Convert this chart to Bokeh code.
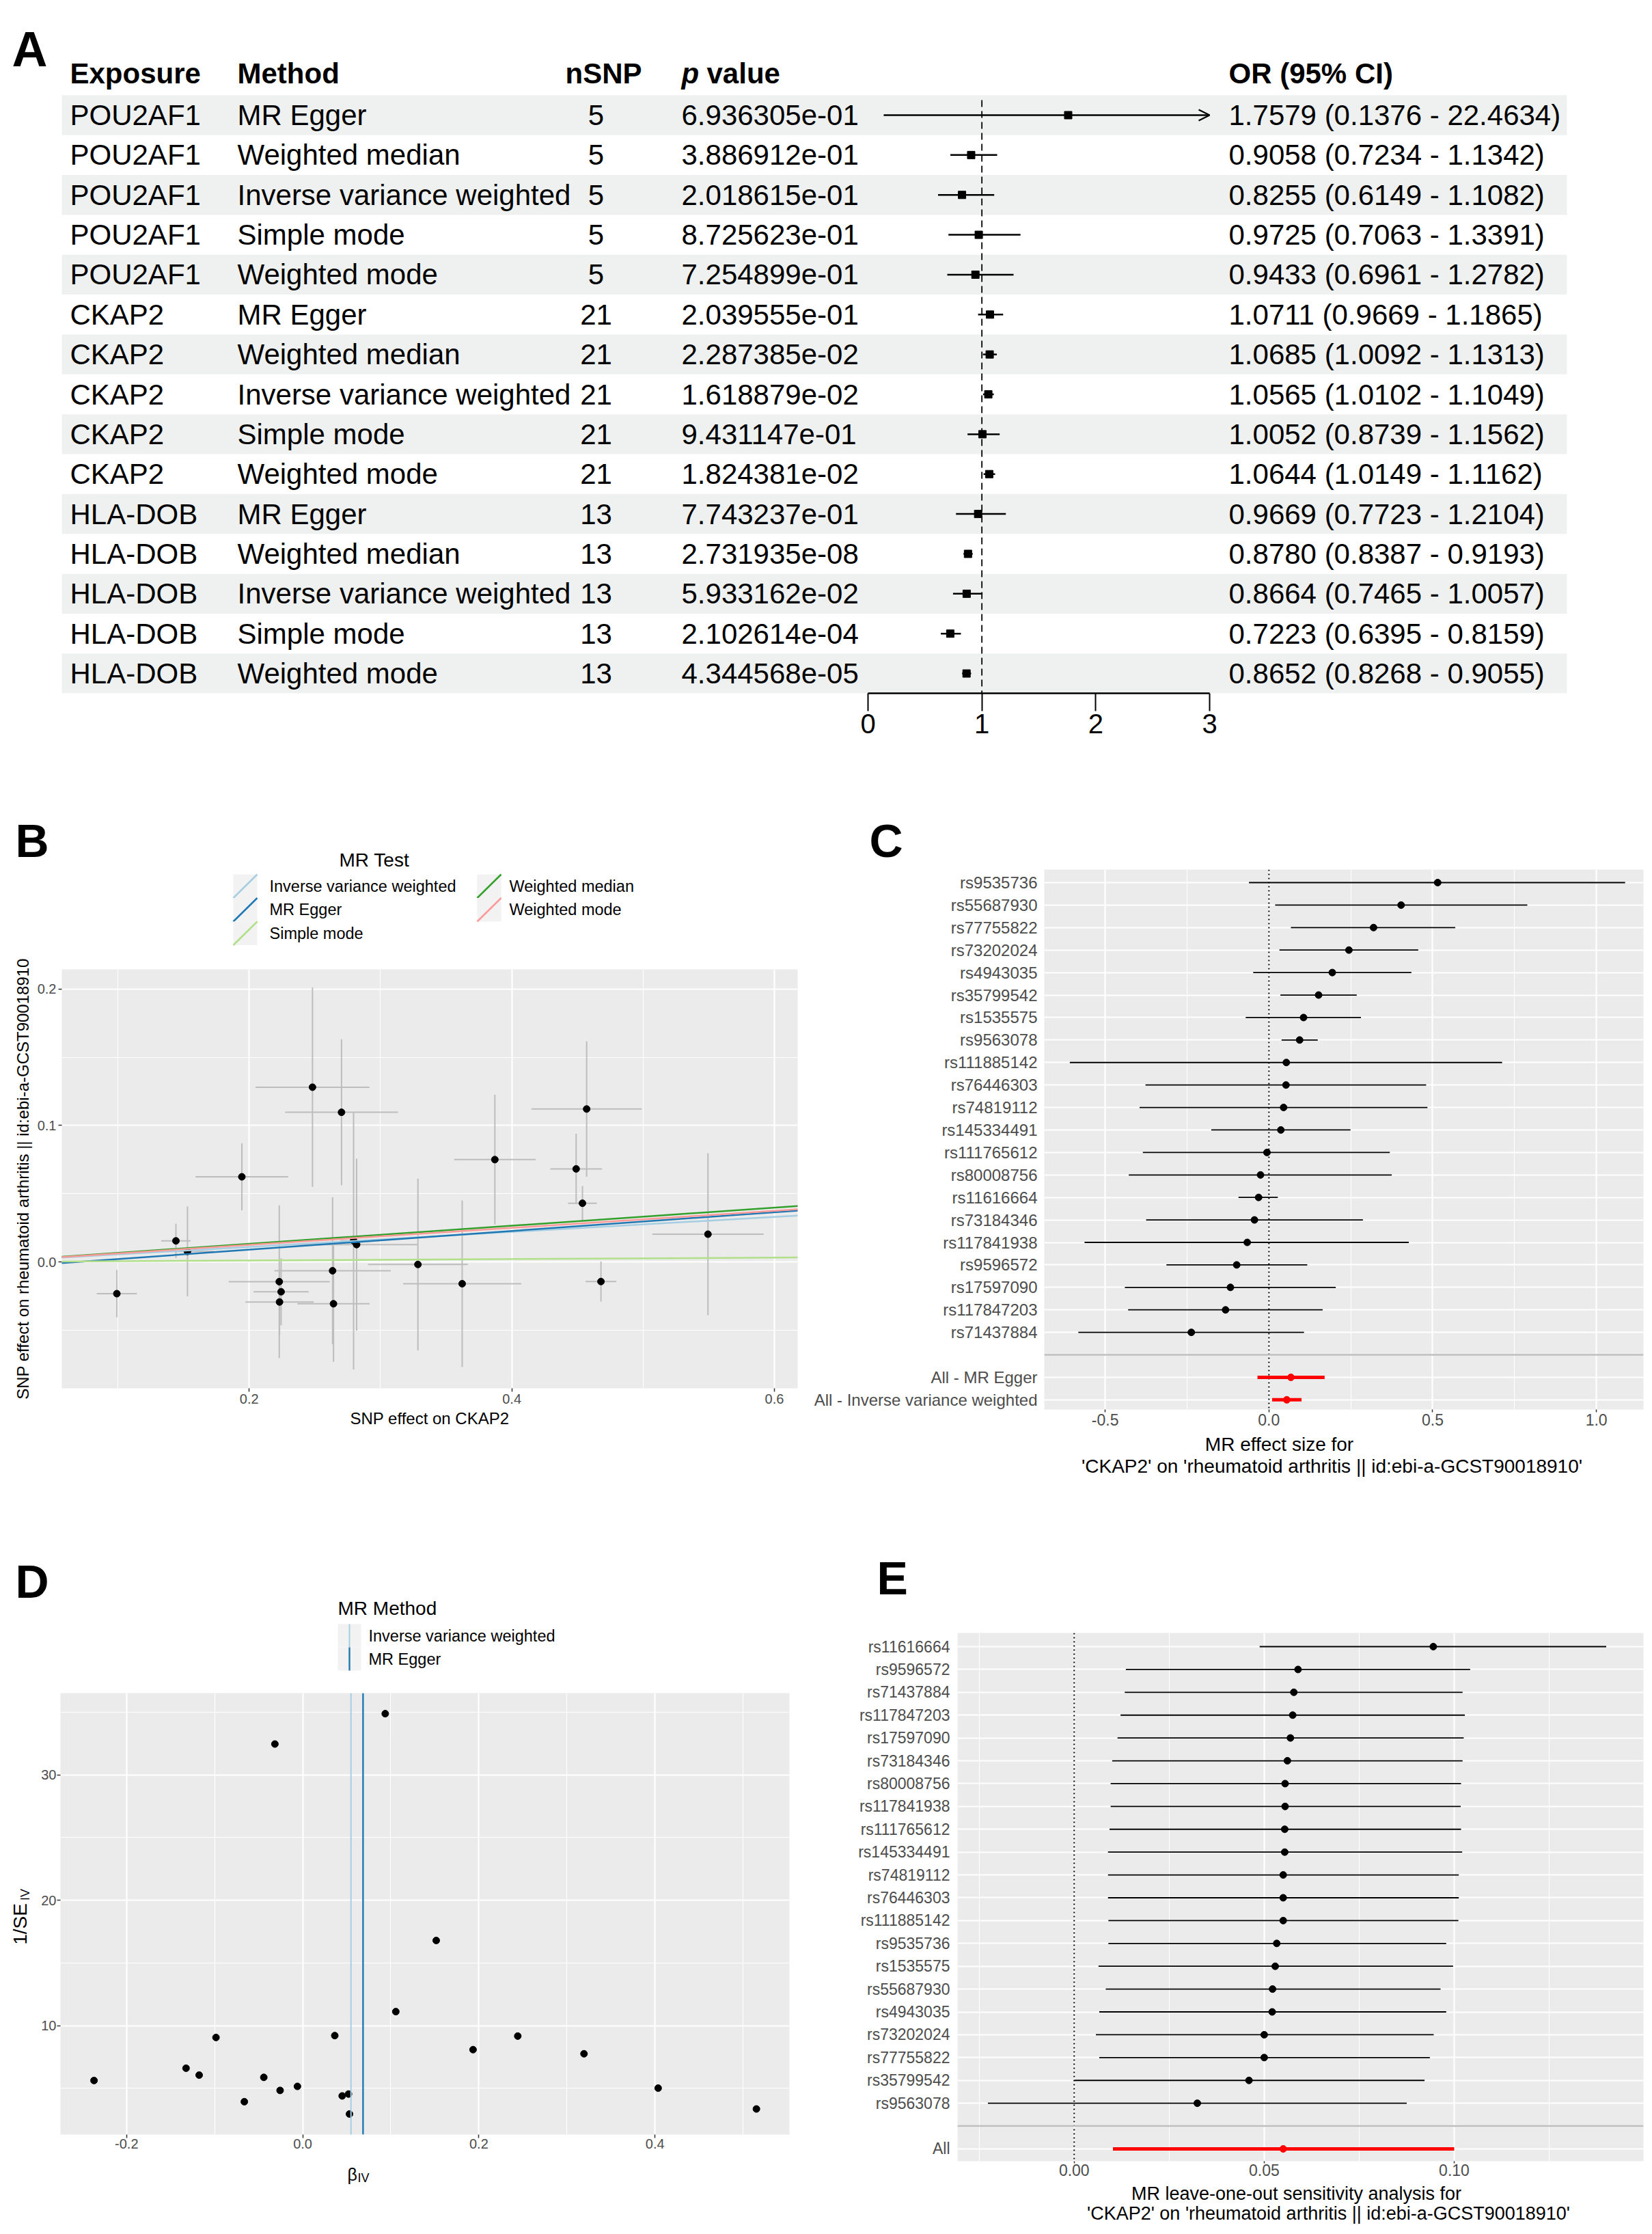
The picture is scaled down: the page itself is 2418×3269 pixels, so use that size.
import numpy as np
from bokeh.plotting import figure
from bokeh.layouts import column, row
from bokeh.models import (Range1d, FixedTicker, PrintfTickFormatter, Span,
                          Slope, Arrow, OpenHead, LinearAxis)
from bokeh.core.properties import value
from bokeh.embed import file_html
from bokeh.resources import INLINE

FONT = "Liberation Sans"

# ======================= DATA =======================
# ---- Panel A: MR results table ----
exposures = ["POU2AF1", "POU2AF1", "POU2AF1", "POU2AF1", "POU2AF1",
             "CKAP2", "CKAP2", "CKAP2", "CKAP2", "CKAP2",
             "HLA-DOB", "HLA-DOB", "HLA-DOB", "HLA-DOB", "HLA-DOB"]
methods = ["MR Egger", "Weighted median", "Inverse variance weighted", "Simple mode", "Weighted mode",
           "MR Egger", "Weighted median", "Inverse variance weighted", "Simple mode", "Weighted mode",
           "MR Egger", "Weighted median", "Inverse variance weighted", "Simple mode", "Weighted mode"]
nsnp = [5, 5, 5, 5, 5, 21, 21, 21, 21, 21, 13, 13, 13, 13, 13]
pvals = [6.936305e-01, 3.886912e-01, 2.018615e-01, 8.725623e-01, 7.254899e-01,
         2.039555e-01, 2.287385e-02, 1.618879e-02, 9.431147e-01, 1.824381e-02,
         7.743237e-01, 2.731935e-08, 5.933162e-02, 2.102614e-04, 4.344568e-05]
or_est = [1.7579, 0.9058, 0.8255, 0.9725, 0.9433, 1.0711, 1.0685, 1.0565, 1.0052, 1.0644,
          0.9669, 0.8780, 0.8664, 0.7223, 0.8652]
or_lo = [0.1376, 0.7234, 0.6149, 0.7063, 0.6961, 0.9669, 1.0092, 1.0102, 0.8739, 1.0149,
         0.7723, 0.8387, 0.7465, 0.6395, 0.8268]
or_hi = [22.4634, 1.1342, 1.1082, 1.3391, 1.2782, 1.1865, 1.1313, 1.1049, 1.1562, 1.1162,
         1.2104, 0.9193, 1.0057, 0.8159, 0.9055]
forest_ticks = [0, 1, 2, 3]
forest_max = 3

# ---- Panel B: scatter (SNP effects) ----
b_bx = [0.0992, 0.1442, 0.1530, 0.1944, 0.2482, 0.2703, 0.2229, 0.2243, 0.2231, 0.2635, 0.2642,
        0.2795, 0.2818, 0.3285, 0.3622, 0.3871, 0.4490, 0.4570, 0.4538, 0.4679, 0.5494]
b_by = [-0.0233, 0.0154, 0.0077, 0.0624, 0.1281, 0.1097, -0.0145, -0.0219, -0.0294, -0.0065, -0.0307,
        0.0155, 0.0127, -0.0019, -0.0160, 0.0750, 0.0682, 0.1121, 0.0430, -0.0144, 0.0203]
b_sx = [0.0153, 0.0112, 0.0200, 0.0353, 0.0434, 0.0430, 0.0385, 0.0210, 0.0260, 0.0443, 0.0275,
        0.0100, 0.0467, 0.0380, 0.0450, 0.0310, 0.0197, 0.0420, 0.0110, 0.0117, 0.0424]
b_sy = [0.0174, 0.0126, 0.0330, 0.0246, 0.0731, 0.0535, 0.0560, 0.0246, 0.0240, 0.0539, 0.0426,
        0.0944, 0.0630, 0.0630, 0.0610, 0.0476, 0.0258, 0.0496, 0.0127, 0.0146, 0.0594]
mr_methods = ["Inverse variance weighted", "MR Egger", "Simple mode", "Weighted median", "Weighted mode"]
mr_colors = ["#a6cee3", "#1f78b4", "#b2df8a", "#33a02c", "#fb9a99"]
mr_slope = [0.0550, 0.0687, 0.0052, 0.0663, 0.0624]
mr_intercept = [0.0, -0.0048, 0.0, 0.0, 0.0]
b_xticks, b_xminor = [0.2, 0.4, 0.6], [0.1, 0.3, 0.5]
b_yticks, b_yminor = [0.0, 0.1, 0.2], [-0.05, 0.05, 0.15]

# ---- Panel C: single SNP forest ----
c_snps = ["rs9535736", "rs55687930", "rs77755822", "rs73202024", "rs4943035", "rs35799542",
          "rs1535575", "rs9563078", "rs111885142", "rs76446303", "rs74819112", "rs145334491",
          "rs111765612", "rs80008756", "rs11616664", "rs73184346", "rs117841938", "rs9596572",
          "rs17597090", "rs117847203", "rs71437884"]
c_b = [0.5152, 0.4036, 0.3194, 0.2442, 0.1934, 0.1516, 0.1057, 0.0937, 0.0531, 0.0520, 0.0448,
       0.0364, -0.0060, -0.0257, -0.0316, -0.0442, -0.0663, -0.0985, -0.1176, -0.1325, -0.2370]
c_lo = [-0.061, 0.019, 0.067, 0.032, -0.048, 0.035, -0.071, 0.0385, -0.608, -0.377, -0.395,
        -0.176, -0.385, -0.428, -0.093, -0.375, -0.563, -0.313, -0.440, -0.430, -0.582]
c_hi = [1.0876, 0.789, 0.569, 0.456, 0.435, 0.268, 0.281, 0.149, 0.712, 0.480, 0.484,
        0.249, 0.369, 0.375, 0.027, 0.287, 0.427, 0.117, 0.204, 0.164, 0.107]
c_all_labels = ["All - MR Egger", "All - Inverse variance weighted"]
c_all_b = [0.0670, 0.0545]
c_all_lo = [-0.035, 0.0096]
c_all_hi = [0.170, 0.0995]
c_xticks, c_xminor = [-0.5, 0.0, 0.5, 1.0], [-0.25, 0.25, 0.75]

# ---- Panel D: funnel ----
d_b = c_b
d_invse = [3.36, 5.02, 7.76, 9.17, 8.09, 16.79, 11.12, 34.87, 2.96, 4.55, 4.40, 9.21, 5.16, 4.84,
           32.45, 5.88, 3.94, 9.06, 6.06, 6.61, 5.63]
d_methods = ["Inverse variance weighted", "MR Egger"]
d_method_b = [0.0548, 0.0685]
d_colors = ["#a6cee3", "#1f78b4"]
d_xticks, d_xminor = [-0.2, 0.0, 0.2, 0.4], [-0.1, 0.1, 0.3, 0.5]
d_yticks, d_yminor = [10, 20, 30], [5, 15, 25, 35]

# ---- Panel E: leave-one-out ----
e_snps = ["rs11616664", "rs9596572", "rs71437884", "rs117847203", "rs17597090", "rs73184346",
          "rs80008756", "rs117841938", "rs111765612", "rs145334491", "rs74819112", "rs76446303",
          "rs111885142", "rs9535736", "rs1535575", "rs55687930", "rs4943035", "rs73202024",
          "rs77755822", "rs35799542", "rs9563078"]
e_b = [0.0945, 0.0589, 0.0578, 0.0575, 0.0569, 0.0561, 0.0555, 0.0555, 0.0554, 0.0554, 0.0550,
       0.0550, 0.0550, 0.0533, 0.0529, 0.0522, 0.0521, 0.0500, 0.0500, 0.0460, 0.0324]
e_lo = [0.0488, 0.0136, 0.0133, 0.0122, 0.0114, 0.0100, 0.0096, 0.0096, 0.0093, 0.0089, 0.0089,
        0.0089, 0.0090, 0.0090, 0.0064, 0.0083, 0.0066, 0.0057, 0.0066, 0.0001, -0.0227]
e_hi = [0.1400, 0.1042, 0.1022, 0.1028, 0.1025, 0.1022, 0.1018, 0.1017, 0.1018, 0.1021, 0.1012,
        0.1012, 0.1011, 0.0979, 0.0997, 0.0964, 0.0979, 0.0946, 0.0936, 0.0922, 0.0875]
e_all_label = "All"
e_all_b, e_all_lo, e_all_hi = 0.0550, 0.0102, 0.1000
e_xticks, e_xminor = [0.0, 0.05, 0.10], [-0.025, 0.025, 0.075, 0.125]

outcome_txt = "'CKAP2' on 'rheumatoid arthritis || id:ebi-a-GCST90018910'"

# ======================= STYLE HELPERS =======================
TICK_GREY = "#4d4d4d"
PANEL_BG = "#ebebeb"
COMMON = dict(output_backend="svg", toolbar_location=None, frame_align=False)


def base_fig(w, h, xr, yr, ml, mr, mt, mb, **kw):
    p = figure(width=w, height=h, x_range=xr, y_range=yr, min_border_left=ml,
               min_border_right=mr, min_border_top=mt, min_border_bottom=mb, **COMMON, **kw)
    p.outline_line_color = None
    p.border_fill_color = "white"
    return p


def blank_fig(w, h, xr, yr):
    p = figure(width=w, height=h, x_range=xr, y_range=yr, x_axis_type=None, y_axis_type=None,
               min_border=0, min_border_left=0, min_border_right=0, min_border_top=0,
               min_border_bottom=0, **COMMON)
    p.outline_line_color = None
    p.border_fill_color = "white"
    p.background_fill_color = "white"
    return p


def gtext(p, x, y, text, size, style="normal", align="left", baseline="middle", angle=0.0):
    p.text(x=[x], y=[y], text=[text], text_font=value(FONT), text_font_size=size,
           text_font_style=style, text_align=align, text_baseline=baseline, angle=angle,
           text_color="black")


def gg_axes(p, xt, xminor, xfmt, yt, yminor, yfmt, tick_size, ytick_marks=True, ylab_standoff=3,
            xlab_standoff=3, xtick_out=5):
    p.background_fill_color = PANEL_BG
    p.xaxis.ticker = FixedTicker(ticks=xt, minor_ticks=xminor)
    p.yaxis.ticker = FixedTicker(ticks=yt, minor_ticks=yminor)
    if xfmt:
        p.xaxis.formatter = PrintfTickFormatter(format=xfmt)
    if yfmt:
        p.yaxis.formatter = PrintfTickFormatter(format=yfmt)
    for a in (p.xaxis[0], p.yaxis[0]):
        a.axis_line_color = None
        a.minor_tick_line_color = None
        a.major_tick_line_color = "#333333"
        a.major_tick_line_width = 1.5
        a.major_tick_out = 5
        a.major_tick_in = 0
        a.major_label_text_font = FONT
        a.major_label_text_font_size = tick_size
        a.major_label_text_color = TICK_GREY
        a.axis_label_text_font = FONT
        a.axis_label_text_font_style = "normal"
        a.axis_label_text_color = "black"
        a.axis_label_text_font_size = "24px"
    p.xaxis[0].major_tick_out = xtick_out
    p.xaxis[0].major_label_standoff = xlab_standoff
    p.yaxis[0].major_label_standoff = ylab_standoff
    if not ytick_marks:
        p.yaxis[0].major_tick_line_color = None
        p.yaxis[0].major_tick_out = 0
    for g in (p.xgrid[0], p.ygrid[0]):
        g.grid_line_color = "white"
        g.grid_line_width = 2.2
        g.minor_grid_line_color = "white"
        g.minor_grid_line_width = 1.1


# ======================= PANEL A =======================
A_W, A_H = 2408, 1158
OR0_PX, OR3_PX = 1270.0, 1770.0
ROW1_PX, ROW_PITCH = 168.0, 58.36
AXIS_PX = 1014.0


def fx(px):
    return (px - OR0_PX) * forest_max / (OR3_PX - OR0_PX)


def fy(py):
    return 1 + (py - ROW1_PX) / ROW_PITCH


pa = figure(width=A_W, height=A_H, x_range=Range1d(fx(0), fx(A_W)),
            y_range=Range1d(fy(AXIS_PX), fy(0)), x_axis_type=None, y_axis_type=None,
            min_border_left=0, min_border_right=0, min_border_top=0,
            min_border_bottom=int(A_H - AXIS_PX), **COMMON)
pa.outline_line_color = None

rows = np.arange(1, len(exposures) + 1)
band_rows = rows[::2]
pa.quad(left=fx(90), right=fx(2293), top=band_rows - 0.5, bottom=band_rows + 0.5,
        fill_color="#eff1f0", line_color=None)


def tcol(x, texts, ys, align="left", style="normal", size="42px"):
    pa.text(x=[x] * len(texts), y=list(ys), text=list(texts), text_font=value(FONT),
            text_font_size=size, text_align=align, text_baseline="middle",
            text_font_style=style, text_color="black")


hy = [fy(107)]
tcol(fx(102), ["Exposure"], hy, style="bold")
tcol(fx(347), ["Method"], hy, style="bold")
tcol(fx(883), ["nSNP"], hy, align="center", style="bold")
tcol(fx(997), ["p"], hy, style="bold italic")
tcol(fx(1034), ["value"], hy, style="bold")
tcol(fx(1798), ["OR (95% CI)"], hy, style="bold")

tcol(fx(102), exposures, rows)
tcol(fx(347), methods, rows)
tcol(fx(872), [str(n) for n in nsnp], rows, align="center")
tcol(fx(997), ["%.6e" % v for v in pvals], rows)
tcol(fx(1798), ["%.4f (%.4f - %.4f)" % (o, l, h) for o, l, h in zip(or_est, or_lo, or_hi)], rows)

pa.segment(x0=[1], x1=[1], y0=[fy(146)], y1=[fy(AXIS_PX)], line_color="black",
           line_width=1.8, line_dash="10 6")

lo_c = np.maximum(np.array(or_lo), 0)
hi_c = np.minimum(np.array(or_hi), forest_max)
clipped = np.array(or_hi) > forest_max
pa.segment(x0=lo_c[~clipped], x1=hi_c[~clipped], y0=rows[~clipped], y1=rows[~clipped],
           line_color="black", line_width=2.5)
for i in np.where(clipped)[0]:
    pa.add_layout(Arrow(end=OpenHead(size=16, line_width=2.2, line_color="black"),
                        x_start=float(lo_c[i]), x_end=float(hi_c[i]),
                        y_start=float(rows[i]), y_end=float(rows[i]),
                        line_color="black", line_width=2.5))
pa.scatter(x=or_est, y=rows, marker="square", size=11, fill_color="black", line_color="black")

axA = LinearAxis(ticker=FixedTicker(ticks=forest_ticks), bounds=(0, forest_max))
axA.axis_line_width = 2.5
axA.axis_line_color = "black"
axA.major_tick_line_width = 2
axA.major_tick_out = 26
axA.major_tick_in = 0
axA.minor_tick_line_color = None
axA.major_label_text_font = FONT
axA.major_label_text_font_size = "40px"
axA.major_label_text_color = "black"
axA.major_label_standoff = 4
pa.add_layout(axA, "below")

pa.text(x=[fx(17)], y=[fy(71)], text=["A"], text_font=value(FONT), text_font_size="72px",
        text_font_style="bold", text_baseline="alphabetic", text_color="black")

# ======================= PANEL B =======================
legB = blank_fig(1188, 242, Range1d(0, 1188), Range1d(1400, 1158))
gtext(legB, 22, 1229, "B", "68px", style="bold", baseline="alphabetic")
gtext(legB, 496, 1258, "MR Test", "28px")
key_w, key_h = 35, 34.5
key_x = [341, 698]
txt_x = [394, 745]
for i, (m, c) in enumerate(zip(mr_methods, mr_colors)):
    kx = key_x[i // 3]
    ky = 1279 + (i % 3) * key_h
    legB.quad(left=kx, right=kx + key_w, top=ky, bottom=ky + key_h, fill_color="#f2f2f2",
              line_color=None)
    legB.segment(x0=[kx], y0=[ky + key_h], x1=[kx + key_w], y1=[ky], line_color=c, line_width=2.5)
    gtext(legB, txt_x[i // 3], ky + key_h / 2, m, "23.5px")

pb = base_fig(1188, 838, Range1d(0.0573, 0.6177), Range1d(-0.0927, 0.2145), 90, 21, 18, 207)
gg_axes(pb, b_xticks, b_xminor, "%.1f", b_yticks, b_yminor, "%.1f", "20px")
pb.xaxis.axis_label = "SNP effect on CKAP2"
pb.yaxis.axis_label = "SNP effect on rheumatoid arthritis || id:ebi-a-GCST90018910"
pb.xaxis.axis_label_standoff = 5
pb.yaxis.axis_label_standoff = 5
bx, by, sx, sy = map(np.array, (b_bx, b_by, b_sx, b_sy))
pb.segment(x0=bx, x1=bx, y0=by - sy, y1=by + sy, line_color="#bdbdbd", line_width=2)
pb.segment(x0=bx - sx, x1=bx + sx, y0=by, y1=by, line_color="#bdbdbd", line_width=2)
pb.scatter(x=bx, y=by, size=10, fill_color="black", line_color="black")
for s, a, c in zip(mr_slope, mr_intercept, mr_colors):
    pb.add_layout(Slope(gradient=s, y_intercept=a, line_color=c, line_width=2.5))

# ======================= PANEL C =======================
n_c = len(c_snps)
c_rows = np.arange(1, n_c + 1)
c_blank = n_c + 1
c_all_rows = np.arange(n_c + 2, n_c + 2 + len(c_all_labels))
c_nrow = n_c + 1 + len(c_all_labels)

headC = blank_fig(1220, 114, Range1d(1188, 2408), Range1d(1272, 1158))
gtext(headC, 1272, 1229, "C", "68px", style="bold", baseline="alphabetic")

pc = base_fig(1220, 822, Range1d(-0.686, 1.1436), Range1d(24.43, 0.4225), 338, 3, 0, 32)
gg_axes(pc, c_xticks, c_xminor, "%.1f", list(range(1, c_nrow + 1)), [], None, "23px",
        ytick_marks=False, ylab_standoff=10, xlab_standoff=2, xtick_out=4)
pc.yaxis[0].major_label_text_font_size = "24px"
c_over = {int(r): s for r, s in zip(c_rows, c_snps)}
c_over[int(c_blank)] = ""
c_over.update({int(r): s for r, s in zip(c_all_rows, c_all_labels)})
pc.yaxis[0].major_label_overrides = c_over
pc.add_layout(Span(location=0, dimension="height", line_color="black", line_width=2,
                   line_dash="2 4", level="underlay"))
pc.segment(x0=c_lo, x1=c_hi, y0=c_rows, y1=c_rows, line_color="black", line_width=1.8)
pc.scatter(x=c_b, y=c_rows, size=10, fill_color="black", line_color="black")
pc.segment(x0=c_all_lo, x1=c_all_hi, y0=c_all_rows, y1=c_all_rows, line_color="red", line_width=5)
pc.scatter(x=c_all_b, y=c_all_rows, size=10, fill_color="red", line_color="red")
pc.add_layout(Span(location=c_blank, dimension="width", line_color="#bebebe", line_width=2.5))

footC = blank_fig(1220, 144, Range1d(1188, 2408), Range1d(2238, 2094))
gtext(footC, 1872, 2113, "MR effect size for", "28px", align="center")
gtext(footC, 1949, 2145, outcome_txt, "28px", align="center")

# ======================= PANEL D =======================
legD = blank_fig(1188, 232, Range1d(0, 1188), Range1d(2470, 2238))
gtext(legD, 22, 2313, "D", "68px", style="bold", baseline="alphabetic")
gtext(legD, 494, 2353, "MR Method", "28px")
for i, (m, c) in enumerate(zip(d_methods, d_colors)):
    ky = 2376 + i * 34
    legD.quad(left=494, right=528, top=ky, bottom=ky + 34, fill_color="#f2f2f2", line_color=None)
    legD.segment(x0=[511], x1=[511], y0=[ky], y1=[ky + 34], line_color=c,
                 line_width=2 if i == 0 else 2.4)
    gtext(legD, 539, ky + 17, m, "23.5px")

SIDE_W = 57
sideD = blank_fig(SIDE_W, 685, Range1d(0, SIDE_W), Range1d(-3155, -2470))
gtext(sideD, 29, -2815, "1/SE", "28px", align="center", baseline="middle", angle=np.pi / 2)
gtext(sideD, 36, -2772, "IV", "18px", align="center", baseline="middle", angle=np.pi / 2)

pd = base_fig(1188 - SIDE_W, 685, Range1d(-0.2751, 0.5527), Range1d(1.32, 36.51),
              85 - SIDE_W, 33, 7, 32)
gg_axes(pd, d_xticks, d_xminor, "%.1f", d_yticks, d_yminor, "%d", "20px",
        ylab_standoff=1, xlab_standoff=1)
pd.scatter(x=d_b, y=d_invse, size=10, fill_color="black", line_color="black")
for bval, c, w in zip(d_method_b, d_colors, [2.0, 2.4]):
    pd.add_layout(Span(location=bval, dimension="height", line_color=c, line_width=w))

footD = blank_fig(1188, 103, Range1d(0, 1188), Range1d(-3258, -3155))
gtext(footD, 508, -3181, "β", "25px", baseline="alphabetic")
gtext(footD, 523, -3186, "IV", "18px", baseline="alphabetic")

# ======================= PANEL E =======================
n_e = len(e_snps)
e_rows = np.arange(1, n_e + 1)
e_blank = n_e + 1
e_all_row = n_e + 2

headE = blank_fig(1220, 151, Range1d(1188, 2408), Range1d(2389, 2238))
gtext(headE, 1283, 2308, "E", "68px", style="bold", baseline="alphabetic")

pe = base_fig(1220, 802, Range1d(-0.0307, 0.1498), Range1d(23.54, 0.401), 213, 3, 0, 29)
gg_axes(pe, e_xticks, e_xminor, "%.2f", list(range(1, e_all_row + 1)), [], None, "23px",
        ytick_marks=False, ylab_standoff=11, xlab_standoff=0, xtick_out=3)
e_over = {int(r): s for r, s in zip(e_rows, e_snps)}
e_over[int(e_blank)] = ""
e_over[int(e_all_row)] = e_all_label
pe.yaxis[0].major_label_overrides = e_over
pe.add_layout(Span(location=0, dimension="height", line_color="black", line_width=2,
                   line_dash="2 4", level="underlay"))
pe.segment(x0=e_lo, x1=e_hi, y0=e_rows, y1=e_rows, line_color="black", line_width=1.8)
pe.scatter(x=e_b, y=e_rows, size=10, fill_color="black", line_color="black")
pe.segment(x0=[e_all_lo], x1=[e_all_hi], y0=[e_all_row], y1=[e_all_row], line_color="red",
           line_width=5)
pe.scatter(x=[e_all_b], y=[e_all_row], size=10, fill_color="red", line_color="red")
pe.add_layout(Span(location=e_blank, dimension="width", line_color="#bebebe", line_width=2.5))

footE = blank_fig(1220, 67, Range1d(1188, 2408), Range1d(3258, 3191))
gtext(footE, 1897, 3209, "MR leave-one-out sensitivity analysis for", "27px", align="center")
gtext(footE, 1944, 3238, outcome_txt, "27px", align="center")

# ======================= LAYOUT =======================
layout = column(
    pa,
    row(column(legB, pb), column(headC, pc, footC)),
    row(column(legD, row(sideD, pd), footD), column(headE, pe, footE)),
)
open("out.html", "w").write(file_html(layout, INLINE, "MR figure"))
